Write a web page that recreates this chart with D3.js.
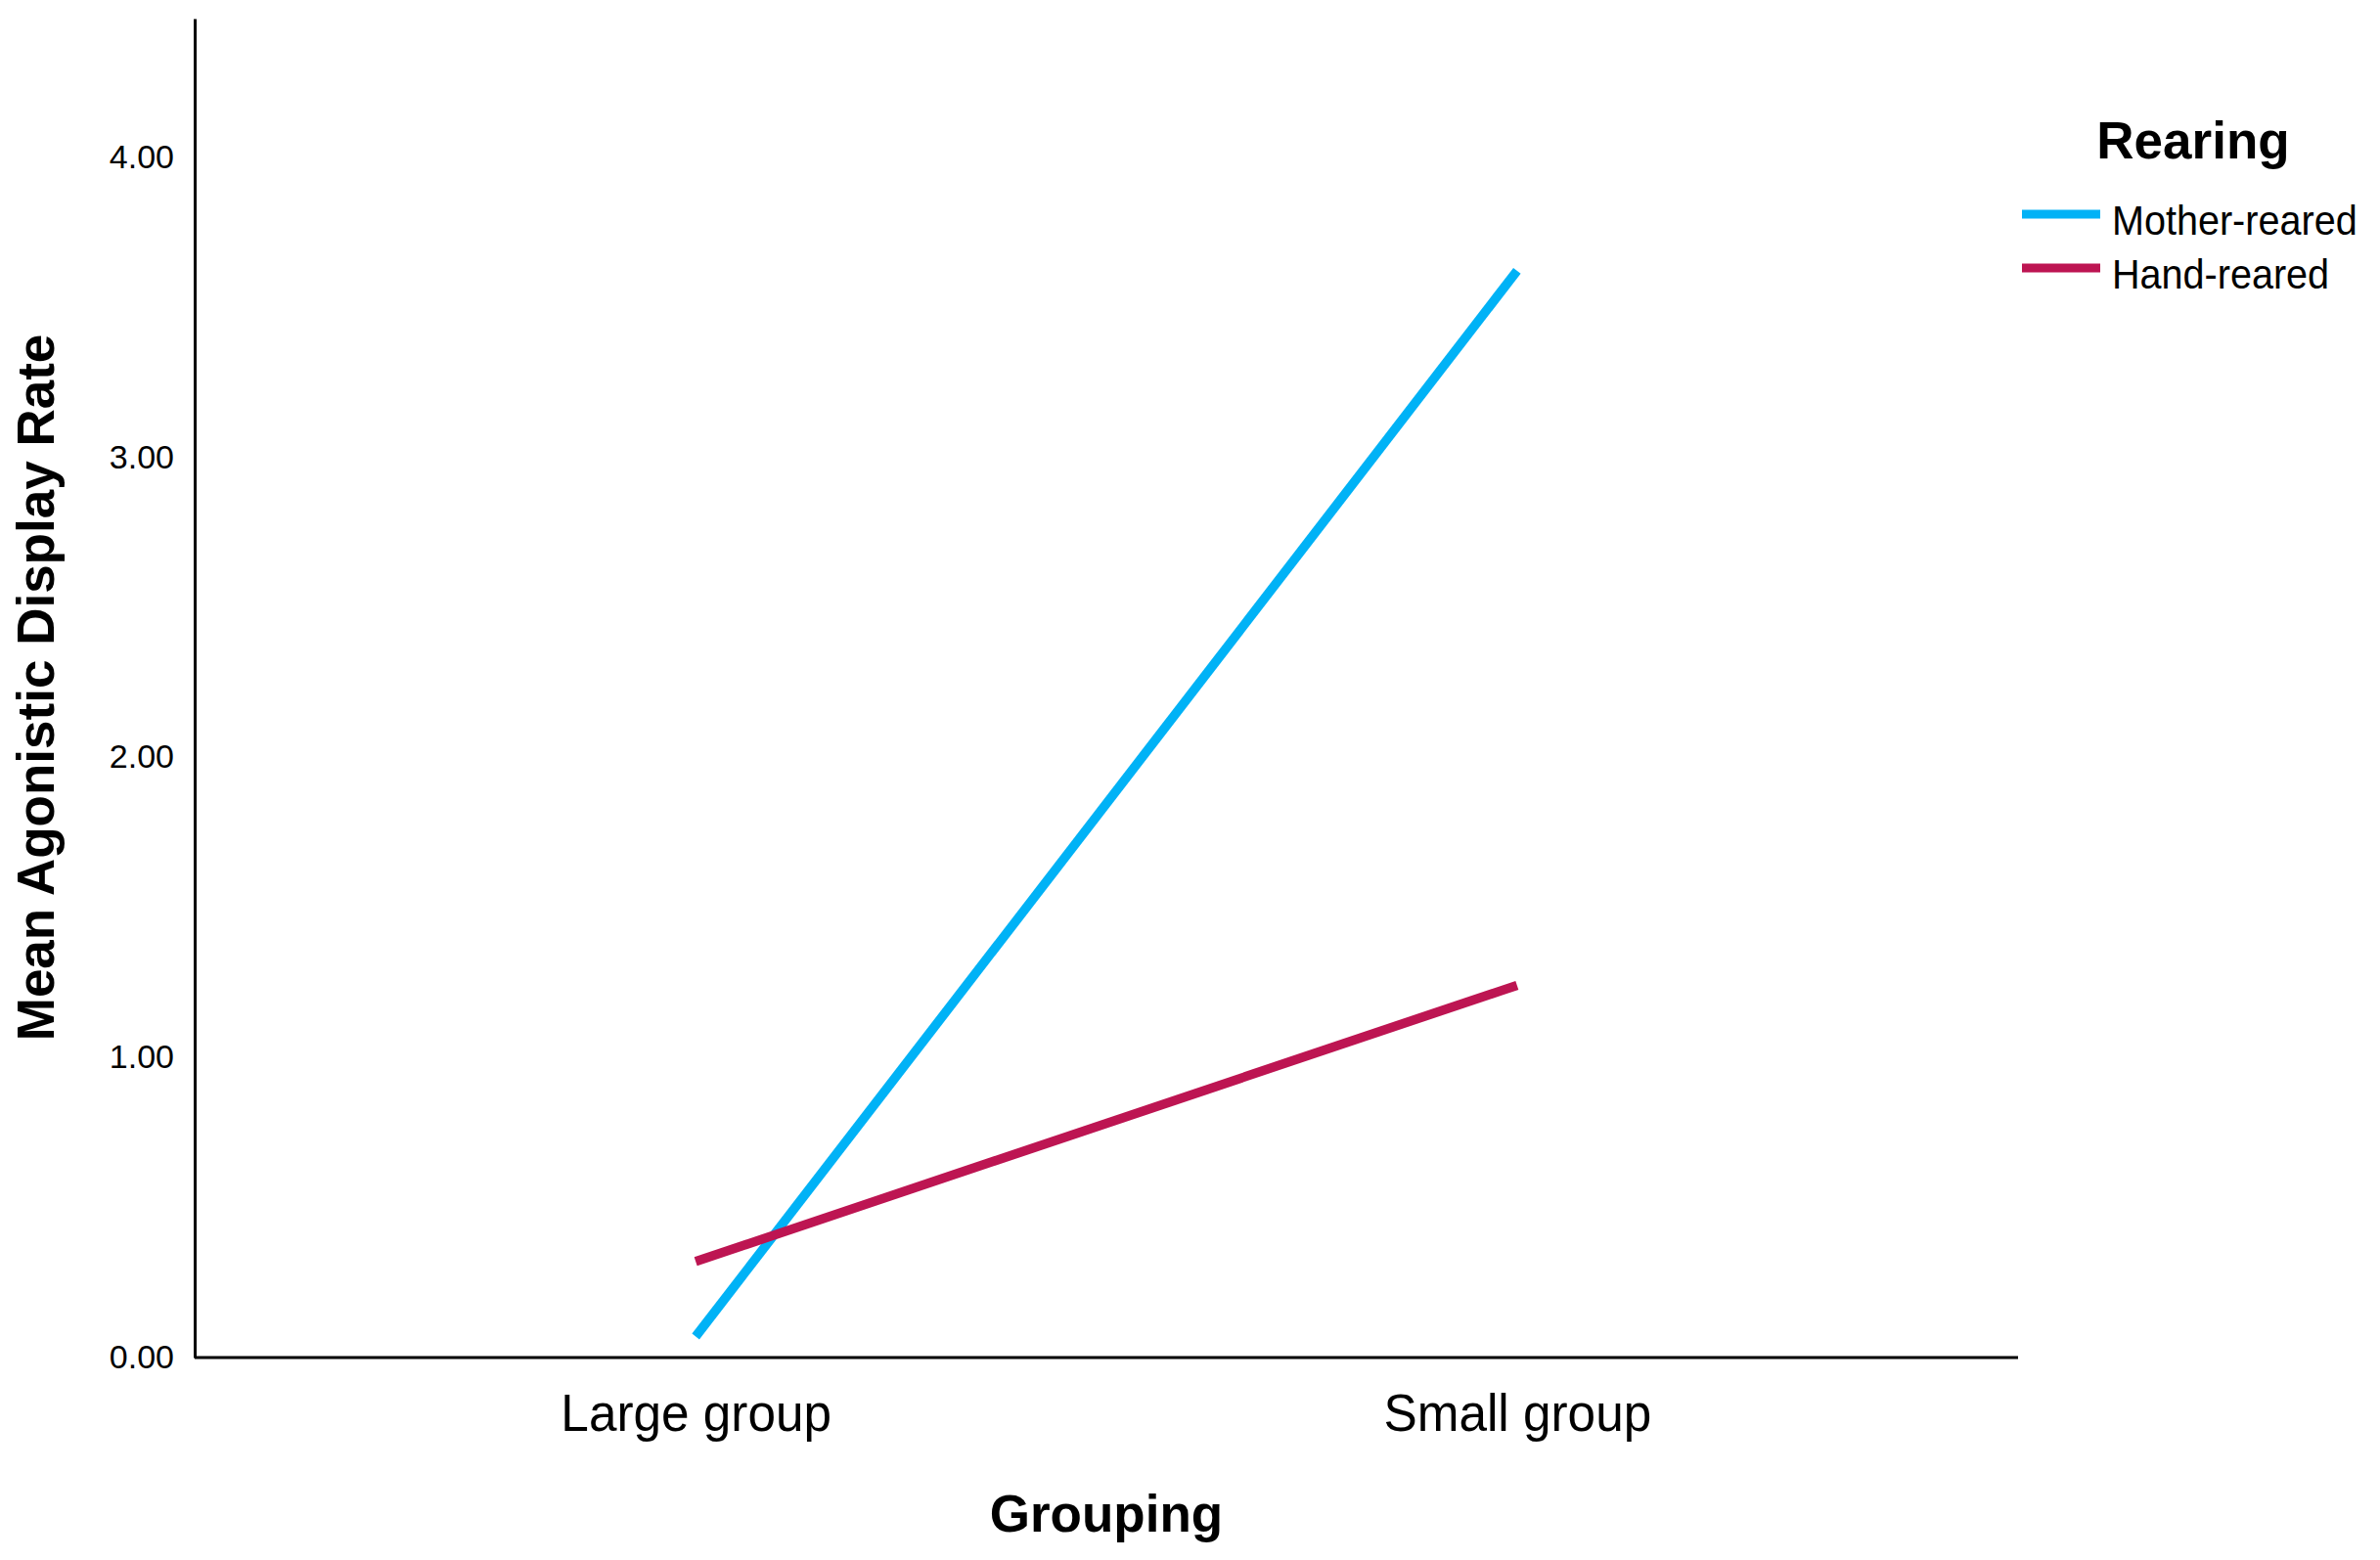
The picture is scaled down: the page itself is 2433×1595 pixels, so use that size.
<!DOCTYPE html>
<html>
<head>
<meta charset="utf-8">
<script src="https://cdn.jsdelivr.net/npm/d3@7"></script>
<style>
  html, body { margin: 0; padding: 0; background: #fff; }
  svg { display: block; font-family: "Liberation Sans", Arial, sans-serif; }
</style>
</head>
<body>
<div id="vis"></div>
<script>
// values
var groups = ['Large group', 'Small group'];
var seriesNames = ['Mother-reared', 'Hand-reared'];
var motherReared = [0.07, 3.62];
var handReared = [0.32, 1.24];
var yTicks = [0, 1, 2, 3, 4];
var yMax = 4.46;

var width = 2433;
var height = 1595;
var margin = { top: 19, right: 370, bottom: 207, left: 199 };

var colors = { 'Mother-reared': '#00b2f6', 'Hand-reared': '#bd1552' };

var svg = d3.select('#vis')
  .append('svg')
  .attr('width', width)
  .attr('height', height);

var x = d3.scalePoint()
  .domain(groups)
  .range([margin.left, width - margin.right])
  .padding(0.61);

var y = d3.scaleLinear()
  .domain([0, yMax])
  .range([height - margin.bottom, margin.top]);

// squeeze text horizontally a bit, SPSS fonts render narrow
function condense(sel, k) {
  sel.each(function () {
    var len = this.getComputedTextLength();
    d3.select(this)
      .attr('textLength', len * k)
      .attr('lengthAdjust', 'spacingAndGlyphs');
  });
}

// y axis
var yAxis = svg.append('g')
  .attr('transform', 'translate(' + margin.left + ',0)')
  .call(d3.axisLeft(y).tickValues(yTicks).tickSize(0).tickPadding(21)
    .tickFormat(d3.format('.2f')));

yAxis.select('.domain').attr('stroke', '#000').attr('stroke-width', 3);
yAxis.selectAll('text')
  .attr('font-size', 34)
  .attr('font-family', '"Liberation Sans", Arial, sans-serif')
  .attr('fill', '#000');

// x axis
var xAxis = svg.append('g')
  .attr('transform', 'translate(0,' + (height - margin.bottom) + ')')
  .call(d3.axisBottom(x).tickSize(0).tickPadding(37));

xAxis.select('.domain')
  .attr('stroke', '#000')
  .attr('stroke-width', 3)
  .attr('d', 'M' + margin.left + ',0H' + (width - margin.right));
xAxis.selectAll('text')
  .attr('font-size', 54)
  .attr('font-family', '"Liberation Sans", Arial, sans-serif')
  .attr('fill', '#000')
  .call(condense, 0.95);

// lines
var series = [
  { name: seriesNames[0], values: motherReared },
  { name: seriesNames[1], values: handReared }
];

var line = d3.line()
  .x(function (d, i) { return x(groups[i]); })
  .y(function (d) { return y(d); });

svg.selectAll('.series')
  .data(series)
  .enter().append('path')
  .attr('class', 'series')
  .attr('fill', 'none')
  .attr('stroke', function (d) { return colors[d.name]; })
  .attr('stroke-width', 9.5)
  .attr('d', function (d) { return line(d.values); });

// axis titles
svg.append('text')
  .attr('x', 1131)
  .attr('y', 1566)
  .attr('text-anchor', 'middle')
  .attr('font-size', 53)
  .attr('font-weight', 'bold')
  .text('Grouping');

svg.append('text')
  .attr('transform', 'translate(55,703) rotate(-90)')
  .attr('text-anchor', 'middle')
  .attr('font-size', 53)
  .attr('font-weight', 'bold')
  .text('Mean Agonistic Display Rate');

// legend
var legend = svg.append('g').attr('transform', 'translate(2067,0)');

legend.append('text')
  .attr('x', 175)
  .attr('y', 162)
  .attr('text-anchor', 'middle')
  .attr('font-size', 53)
  .attr('font-weight', 'bold')
  .text('Rearing');

var items = legend.selectAll('.item')
  .data(seriesNames)
  .enter().append('g')
  .attr('class', 'item')
  .attr('transform', function (d, i) { return 'translate(0,' + (219 + i * 55) + ')'; });

items.append('line')
  .attr('x1', 0)
  .attr('x2', 80)
  .attr('stroke', function (d) { return colors[d]; })
  .attr('stroke-width', 9);

items.append('text')
  .attr('x', 92)
  .attr('y', 21)
  .attr('font-size', 43)
  .text(function (d) { return d; })
  .call(condense, 0.92);
</script>
</body>
</html>
